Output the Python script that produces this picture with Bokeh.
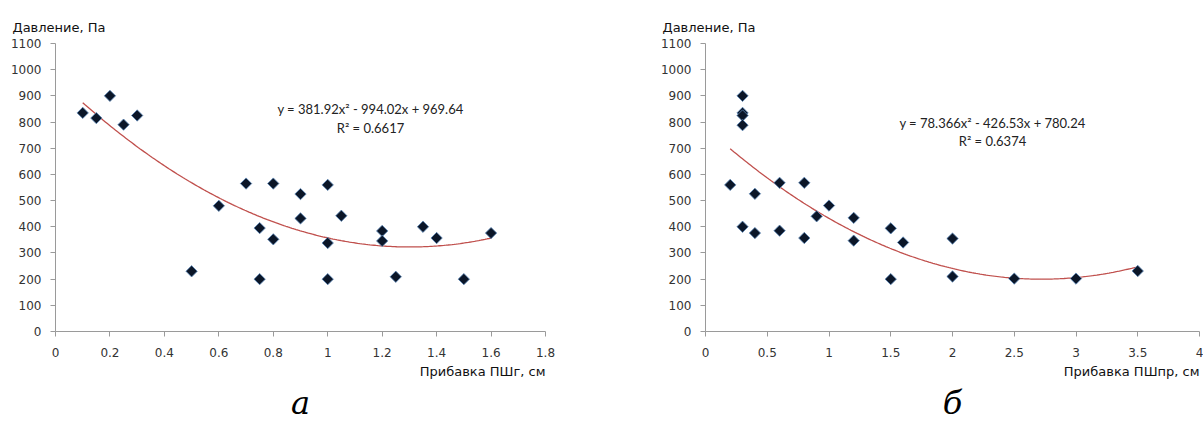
import numpy as np
from bokeh.plotting import figure
from bokeh.layouts import row
from bokeh.models import Range1d, FixedTicker, Label, Title
from bokeh.embed import file_html
from bokeh.resources import INLINE

# ---------------- data ----------------
# chart "а": pressure vs ПШг allowance
x_a = [0.1, 0.15, 0.2, 0.25, 0.3, 0.5, 0.6, 0.7, 0.75, 0.75, 0.8, 0.8, 0.9, 0.9,
       1.0, 1.0, 1.0, 1.05, 1.2, 1.2, 1.25, 1.35, 1.4, 1.5, 1.6]
y_a = [835, 815, 900, 790, 825, 230, 480, 565, 395, 200, 565, 352, 525, 432,
       560, 338, 200, 442, 384, 346, 209, 400, 357, 200, 376]
coef_a = [381.92, -994.02, 969.64]
eq_a = "y = 381.92x² - 994.02x + 969.64"
r2_a = "R² = 0.6617"
xticks_a = [0, 0.2, 0.4, 0.6, 0.8, 1.0, 1.2, 1.4, 1.6, 1.8]
xlabels_a = ["0", "0.2", "0.4", "0.6", "0.8", "1", "1.2", "1.4", "1.6", "1.8"]
xtitle_a = "Прибавка ПШг, см"

# chart "б": pressure vs ПШпр allowance
x_b = [0.2, 0.3, 0.3, 0.3, 0.3, 0.3, 0.4, 0.4, 0.6, 0.6, 0.8, 0.8, 0.9, 1.0,
       1.2, 1.2, 1.5, 1.5, 1.6, 2.0, 2.0, 2.5, 3.0, 3.5]
y_b = [560, 900, 835, 825, 788, 400, 526, 376, 568, 385, 568, 357, 440, 481,
       434, 347, 394, 200, 340, 355, 210, 202, 202, 231]
coef_b = [78.366, -426.53, 780.24]
eq_b = "y = 78.366x² - 426.53x + 780.24"
r2_b = "R² = 0.6374"
xticks_b = [0, 0.5, 1.0, 1.5, 2.0, 2.5, 3.0, 3.5, 4.0]
xlabels_b = ["0", "0.5", "1", "1.5", "2", "2.5", "3", "3.5", "4"]
xtitle_b = "Прибавка ПШпр, см"

yticks = [0, 100, 200, 300, 400, 500, 600, 700, 800, 900, 1000, 1100]
ytitle = "Давление, Па"
subtitles = ["а", "б"]

AXIS_COLOR = "#9a9a9a"
TICK_TEXT = "#333333"
MARK_FILL = "#0b1628"
MARK_LINE = "#5a86b8"
TREND = "#c0504d"
H = 421
TOP = 43
BOTTOM = 90


def make_chart(xs, ys, coef, eq, r2, eq_pos, xticks, xlabels, xmax, xtitle, sub,
               width, left_border, right_border):
    p = figure(width=width, height=H, output_backend="svg", toolbar_location=None,
               x_range=Range1d(0, xmax), y_range=Range1d(0, 1100),
               min_border_left=left_border, min_border_right=right_border,
               min_border_top=TOP, min_border_bottom=BOTTOM)
    p.outline_line_color = None
    p.xgrid.grid_line_color = None
    p.ygrid.grid_line_color = None
    p.background_fill_color = "white"
    p.border_fill_color = "white"

    for ax in (p.xaxis, p.yaxis):
        ax.axis_line_color = AXIS_COLOR
        ax.major_tick_line_color = AXIS_COLOR
        ax.minor_tick_line_color = None
        ax.major_tick_in = 0
        ax.major_tick_out = 5
        ax.major_label_text_font = "DejaVu Sans"
        ax.major_label_text_font_size = "12px"
        ax.major_label_text_color = TICK_TEXT
    p.xaxis.ticker = FixedTicker(ticks=xticks)
    p.xaxis.major_label_overrides = {t: l for t, l in zip(xticks, xlabels)}
    p.xaxis.major_label_standoff = 11
    p.yaxis.ticker = FixedTicker(ticks=yticks)
    p.yaxis.major_label_overrides = {t: str(t) for t in yticks}
    p.yaxis.major_label_standoff = 9

    # trend line from the displayed equation
    xt = np.linspace(min(xs), max(xs), 200)
    yt = coef[0] * xt ** 2 + coef[1] * xt + coef[2]
    p.line(xt, yt, line_color=TREND, line_width=1.3)

    p.scatter(xs, ys, marker="square", angle=np.pi / 4, size=8,
              fill_color=MARK_FILL, line_color=MARK_LINE, line_width=0.8)

    # equation + R² (inside the plotting area)
    frame_w = width - left_border - right_border
    ppx = frame_w / xmax
    ppy = (H - TOP - BOTTOM) / 1100.0
    ex = (eq_pos[0] - left_border) / ppx
    for txt, py in ((eq, eq_pos[1]), (r2, eq_pos[2])):
        p.add_layout(Label(x=ex, y=(H - BOTTOM - py) / ppy, text=txt, text_font="Lato",
                           text_font_size="13px", text_color="#222222",
                           text_align="center", text_baseline="middle"))

    # y-axis title, top-left
    p.add_layout(Title(text=ytitle, align="left", offset=-43, standoff=17,
                       text_font="DejaVu Sans", text_font_size="13px",
                       text_font_style="normal", text_color="#111111"), "above")
    # x-axis title, right-aligned under axis
    p.add_layout(Title(text=xtitle, align="right", standoff=5,
                       text_font="DejaVu Sans", text_font_size="13px",
                       text_font_style="normal", text_color="#111111"), "below")
    # panel letter
    p.add_layout(Title(text=sub, align="center", offset=-5, standoff=0,
                       text_font="DejaVu Serif", text_font_size="32px",
                       text_font_style="italic", text_color="#000000"), "below")
    return p


pa = make_chart(x_a, y_a, coef_a, eq_a, r2_a, (370 - 0, 108, 127), xticks_a, xlabels_a,
                1.8, xtitle_a, subtitles[0], 640, 55, 95)
pb = make_chart(x_b, y_b, coef_b, eq_b, r2_b, (992 - 640, 122, 140), xticks_b, xlabels_b,
                4.0, xtitle_b, subtitles[1], 563, 65, 4)

layout = row(pa, pb)
open("out.html", "w").write(file_html(layout, INLINE))
